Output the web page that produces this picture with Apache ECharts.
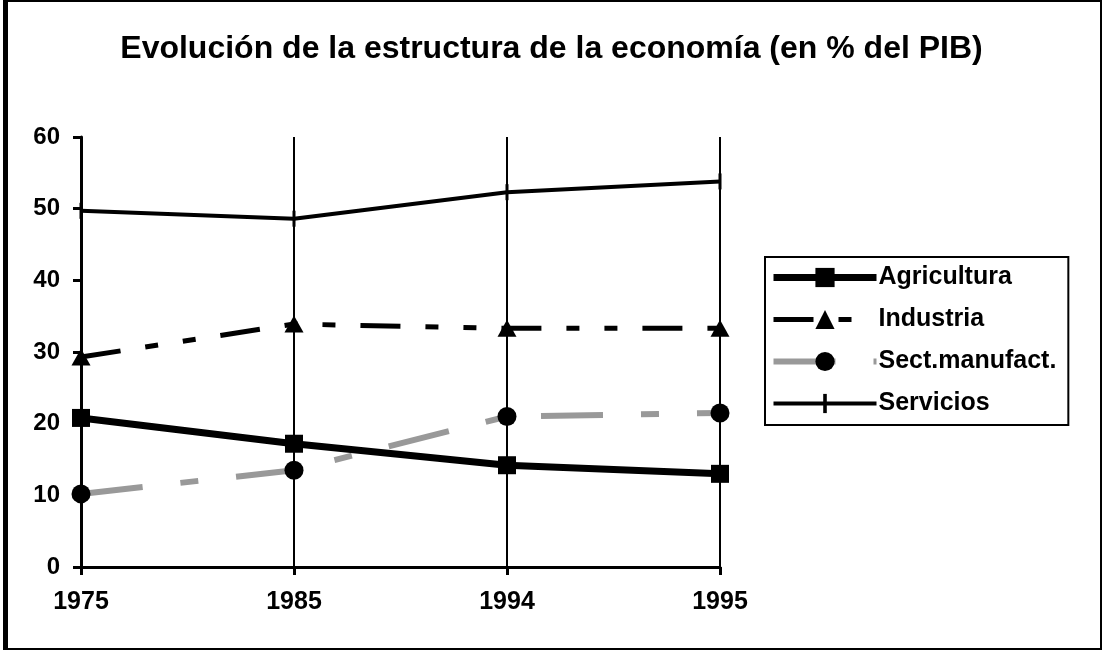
<!DOCTYPE html>
<html>
<head>
<meta charset="utf-8">
<script src="https://cdn.jsdelivr.net/npm/echarts@6/dist/echarts.min.js"></script>
<style>
    html, body { margin: 0; padding: 0; background: #fff; }
    #chart { width: 1103px; height: 652px; }
</style>
</head>
<body>
<div id="chart"></div>
<script>
// datos
const years = ['1975', '1985', '1994', '1995'];
const agricultura = [20.8, 17.2, 14.2, 13.0];
const industria = [29.3, 33.9, 33.3, 33.3];
const manufact = [10.2, 13.5, 21.0, 21.5];
const servicios = [49.7, 48.6, 52.3, 53.8];

const FONT = 'Liberation Sans, Arial, sans-serif';
// marca vertical de Servicios (caja cuadrada para que la leyenda no la deforme)
const BAR = 'path://M0,0M16,16M6.5,0H9.5V16H6.5Z';

const chart = echarts.init(document.getElementById('chart'));

chart.setOption({
    animation: false,
    backgroundColor: '#fff',
    title: {
        text: 'Evolución de la estructura de la economía (en % del PIB)',
        left: 'center',
        top: 28,
        textStyle: {
            fontFamily: FONT,
            fontSize: 32,
            fontWeight: 'bold',
            color: '#000'
        }
    },
    legend: {
        orient: 'vertical',
        left: 765,
        top: 257,
        padding: [8, 12, 9, 5],
        itemWidth: 103,
        itemHeight: 24,
        itemGap: 17,
        borderColor: '#000',
        borderWidth: 2,
        lineStyle: { width: 'inherit', type: 'inherit' },
        textStyle: {
            fontFamily: FONT,
            fontSize: 25,
            fontWeight: 'bold',
            color: '#000',
            padding: [0, 0, 0, -3]
        },
        data: ['Agricultura', 'Industria', 'Sect.manufact.', 'Servicios']
    },
    grid: {
        left: 81,
        right: 383,
        top: 137,
        bottom: 85,
        containLabel: false
    },
    xAxis: {
        type: 'category',
        boundaryGap: false,
        data: years,
        axisLine: { lineStyle: { color: '#000', width: 3 } },
        axisTick: { show: true, length: 8, lineStyle: { color: '#000', width: 3 } },
        axisLabel: {
            margin: 23,
            fontFamily: FONT,
            fontSize: 25,
            fontWeight: 'bold',
            color: '#000'
        },
        splitLine: { show: true, interval: 0, lineStyle: { color: '#000', width: 2 } }
    },
    yAxis: {
        type: 'value',
        min: 0,
        max: 60,
        interval: 10,
        axisLine: { show: true, lineStyle: { color: '#000', width: 3 } },
        axisTick: { show: true, length: 8, lineStyle: { color: '#000', width: 3 } },
        axisLabel: {
            margin: 21,
            fontFamily: FONT,
            fontSize: 24,
            fontWeight: 'bold',
            color: '#000'
        },
        splitLine: { show: false }
    },
    series: [
        {
            name: 'Agricultura',
            type: 'line',
            data: agricultura,
            symbol: 'rect',
            symbolSize: 18,
            itemStyle: { color: '#000' },
            lineStyle: { color: '#000', width: 7 }
        },
        {
            name: 'Industria',
            type: 'line',
            data: industria,
            symbol: 'triangle',
            symbolSize: [19, 17],
            itemStyle: { color: '#000' },
            lineStyle: { color: '#000', width: 5, type: [40, 25, 13, 25, 13, 25] }
        },
        {
            name: 'Sect.manufact.',
            type: 'line',
            data: manufact,
            symbol: 'circle',
            symbolSize: 19,
            itemStyle: { color: '#000' },
            lineStyle: { color: '#999', width: 6, type: [62, 38, 18, 38] }
        },
        {
            name: 'Servicios',
            type: 'line',
            data: servicios,
            symbol: BAR,
            symbolSize: 16,
            itemStyle: { color: '#000' },
            lineStyle: { color: '#000', width: 4 }
        }
    ],
    graphic: [
        {
            type: 'rect',
            shape: { x: 4, y: 1, width: 1097, height: 648 },
            style: { fill: 'none', stroke: '#000', lineWidth: 2 }
        },
        {
            type: 'rect',
            shape: { x: 3, y: 0, width: 5, height: 650 },
            style: { fill: '#000' }
        }
    ]
});
</script>
</body>
</html>
